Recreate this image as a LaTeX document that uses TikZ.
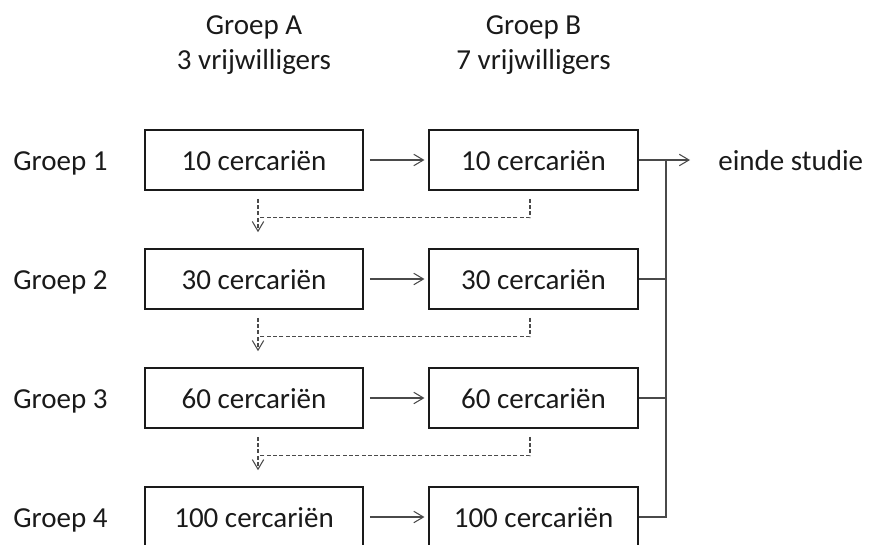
\documentclass[tikz,border=0pt]{standalone}
\usepackage{fontspec}
\setmainfont{Carlito}
\usetikzlibrary{arrows.meta,calc}
\definecolor{ink}{HTML}{1A1A1A}
\definecolor{wire}{HTML}{4A4A4A}

\begin{document}
\begin{tikzpicture}[
  font=\fontsize{16.5pt}{19.9pt}\selectfont,
  >={Straight Barb[length=5.5pt,width=6.5pt]},
  box/.style={draw=ink,line width=0.9pt,minimum height=1.2cm,
              inner sep=0pt,text height=0.4cm,text depth=0pt,text=ink},
  boxA/.style={box,minimum width=4.36cm},
  boxB/.style={box,minimum width=4.17cm},
  label/.style={text=ink,inner sep=0pt,anchor=base},
  head/.style={text=ink,align=center,inner sep=0pt},
  wire/.style={draw=wire,line width=0.6pt},
  arrow/.style={->,draw=wire,line width=0.6pt},
  dashline/.style={draw=wire,line width=0.6pt,dash pattern=on 2.3pt off 1.3pt}
]
\useasboundingbox (0,0) rectangle (17.42,-10.88);

% Column headers
\node[head] (headA) at (5.08,-0.9) {Groep A\\3 vrijwilligers};
\node[head] (headB) at (10.67,-0.9) {Groep B\\7 vrijwilligers};

% Row labels
\node[label] (g1) at (1.21,-3.4) {Groep 1};
\node[label] (g2) at (1.21,-5.78) {Groep 2};
\node[label] (g3) at (1.21,-8.16) {Groep 3};
\node[label] (g4) at (1.21,-10.54) {Groep 4};

% Boxes, group A
\node[boxA] (a1) at (5.08,-3.2) {10 cercariën};
\node[boxA] (a2) at (5.08,-5.58) {30 cercariën};
\node[boxA] (a3) at (5.08,-7.96) {60 cercariën};
\node[boxA] (a4) at (5.08,-10.34) {100 cercariën};

% Boxes, group B
\node[boxB] (b1) at (10.67,-3.2) {10 cercariën};
\node[boxB] (b2) at (10.67,-5.58) {30 cercariën};
\node[boxB] (b3) at (10.67,-7.96) {60 cercariën};
\node[boxB] (b4) at (10.67,-10.34) {100 cercariën};

% End of study
\node[label,anchor=base west] (end) at (14.36,-3.4) {einde studie};
\coordinate (top) at (13.32,-3.2);

% A -> B
\draw[arrow,shorten <=0.12cm,shorten >=0.08cm] (a1) -- (b1);
\draw[arrow,shorten <=0.12cm,shorten >=0.08cm] (a2) -- (b2);
\draw[arrow,shorten <=0.12cm,shorten >=0.08cm] (a3) -- (b3);
\draw[arrow,shorten <=0.12cm,shorten >=0.08cm] (a4) -- (b4);

% Next group (dashed)
\draw[dashline] ($(b1.south)+(-0.07,-0.16)$) |- ($(a1.south)+(0.08,-0.54)$);
\draw[dashline,->] ($(a1.south)+(0.08,-0.16)$) -- ($(a2.north)+(0.08,0.32)$);
\draw[dashline] ($(b2.south)+(-0.07,-0.16)$) |- ($(a2.south)+(0.08,-0.54)$);
\draw[dashline,->] ($(a2.south)+(0.08,-0.16)$) -- ($(a3.north)+(0.08,0.32)$);
\draw[dashline] ($(b3.south)+(-0.07,-0.16)$) |- ($(a3.south)+(0.08,-0.54)$);
\draw[dashline,->] ($(a3.south)+(0.08,-0.16)$) -- ($(a4.north)+(0.08,0.32)$);

% Exit to end of study
\draw[arrow,shorten >=0.56cm] (b1.east) -- (b1.east -| end.west);
\draw[wire] (b4.east) -| (top);
\draw[wire] (b2.east) -- (b2.east -| top);
\draw[wire] (b3.east) -- (b3.east -| top);

\end{tikzpicture}
\end{document}
